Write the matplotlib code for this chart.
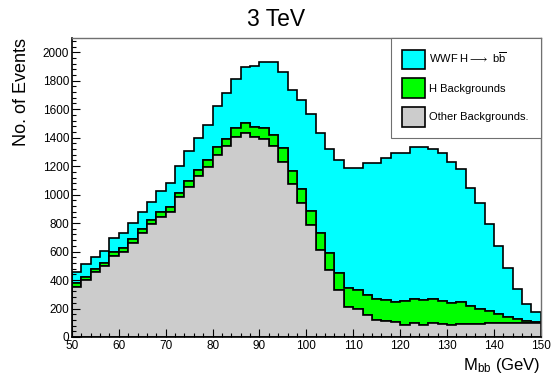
import numpy as np
import matplotlib
matplotlib.use("Agg")
import matplotlib.pyplot as plt

plt.rcParams['font.family'] = ['Liberation Sans', 'DejaVu Sans']
plt.rcParams['mathtext.fontset'] = 'custom'
plt.rcParams['mathtext.rm'] = 'Liberation Sans'
plt.rcParams['mathtext.it'] = 'Liberation Sans:italic'

# bin edges: 50 -> 150 GeV, 2 GeV wide
bin_lo = np.arange(50, 150, 2)

other_bkg = [352, 399, 453, 500, 568, 596, 662, 728, 793, 845,
             880, 981, 1056, 1131, 1195, 1279, 1342, 1408, 1436, 1403,
             1389, 1342, 1232, 1073, 939, 786, 610, 469, 329, 211,
             195, 153, 117, 113, 106, 82, 99, 87, 99, 89,
             82, 94, 94, 94, 97, 95, 97, 98, 98, 100]
h_bkg = [28, 23, 21, 21, 26, 26, 26, 28, 28, 30,
         35, 33, 38, 43, 47, 54, 47, 59, 66, 71,
         78, 78, 94, 96, 98, 101, 118, 118, 122, 132,
         132, 141, 147, 149, 141, 172, 171, 172, 171, 167,
         158, 153, 125, 106, 86, 69, 44, 29, 15, 8]
wwf_hbb = [78, 94, 89, 85, 98, 110, 110, 119, 129, 153,
           165, 188, 209, 227, 248, 291, 324, 347, 394, 432,
           462, 509, 533, 568, 625, 681, 708, 732, 793, 845,
           861, 926, 958, 994, 1044, 1037, 1063, 1074, 1049, 1035,
           987, 933, 830, 743, 608, 472, 345, 211, 121, 66]

labels = ['Other Backgrounds.', 'H Backgrounds', 'WWF H$\\longrightarrow$ b$\\overline{\\mathrm{b}}$']
colors = ['#cccccc', '#00ff00', '#00ffff']

fig = plt.figure(figsize=(5.53, 3.78), dpi=100)
ax = fig.add_axes([0.130, 0.1085, 0.848, 0.791])

edges = np.arange(50, 152, 2)
centers = bin_lo + 1
n, b, patches = ax.hist([centers] * 3, bins=edges,
                        weights=[other_bkg, h_bkg, wwf_hbb],
                        stacked=True, histtype='stepfilled',
                        color=colors, edgecolor='black', linewidth=1.2,
                        label=labels)

ax.set_xlim(50, 150)
ax.set_ylim(0, 2100)
ax.set_xticks(np.arange(50, 151, 10))
ax.set_xticks(np.arange(50, 151, 2), minor=True)
ax.set_yticks(np.arange(0, 2001, 200))
ax.set_yticks(np.arange(0, 2100, 40), minor=True)
ax.tick_params(which='both', direction='in', top=False, right=False,
               labelsize=8.5, width=0.8)
ax.tick_params(which='major', length=6)
ax.tick_params(which='minor', length=3)
ax.tick_params(axis='x', pad=2)
ax.tick_params(axis='y', pad=2)

for s in ['left', 'bottom']:
    ax.spines[s].set_linewidth(1.2)
for s in ['top', 'right']:
    ax.spines[s].set_color('#707070')
    ax.spines[s].set_linewidth(1.0)

ax.set_xlabel(r'M$_{\mathrm{bb}}$ (GeV)', loc='right', fontsize=12, labelpad=3)
ax.set_ylabel('No. of Events', loc='top', fontsize=13, labelpad=9)
fig.suptitle('3 TeV', x=0.5, y=0.98, fontsize=16.5)

h, l = ax.get_legend_handles_labels()
leg = ax.legend(h, l, loc='upper left',
                bbox_to_anchor=(0.68, 0.0, 0.32, 1.0), mode='expand',
                borderaxespad=0, fontsize=8, handlelength=2.0,
                handleheight=2.3, labelspacing=0.85, handletextpad=0.4,
                borderpad=1.05, fancybox=False, framealpha=1)
leg.get_frame().set_edgecolor('#707070')
leg.get_frame().set_linewidth(0.8)

fig.savefig('out.png', dpi=100)
